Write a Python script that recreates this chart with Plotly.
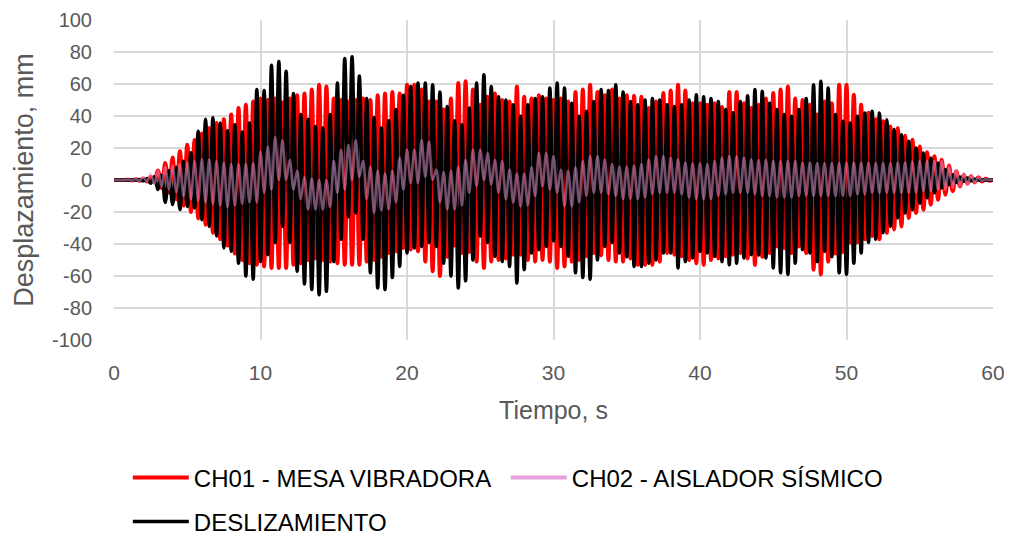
import numpy as np
import plotly.graph_objects as go

# Peak values, one row per second:
# samples at t = s, s+0.25, s+0.5, s+0.75 (alternating extreme values), last value at t = 60
ch01_rows = [
    [0, 0, 0, 0], [0.2, -0.2, 0.4, -0.4], [1, -1, 2, -1.5], [6, -5, 10.6, -8],
    [14, -12, 18, -16], [22, -20, 25, -24], [29, -28, 32.5, -33], [35.6, -37, 38, -41],
    [41, -46, 45, -50], [47, -52, 49, -53], [51, -54, 50, -55], [51, -55, 48.5, -55],
    [51, -53, 53, -52], [54, -50, 56.5, -49], [59.6, -50, 58.5, -51], [51, -52, 50, -53],
    [49, -53, 50, -53], [51, -51, 50, -50], [53, -48, 54, -45.6], [55, -44.6, 54, -42.5],
    [59.6, -43.5, 59.6, -44.6], [56.5, -51, 49, -57], [49, -60, 44, -48], [51, -41, 60.6, -45.6],
    [61.7, -45, 56.5, -51], [47, -55, 52, -51], [54, -50, 50, -49], [49, -46.7, 58.5, -46.7],
    [52, -50, 51, -51], [53, -50, 51, -51], [50, -55, 51, -54], [49, -51, 55, -50],
    [56.5, -47.7, 59.6, -45.6], [55, -47, 53, -50], [56.5, -51, 51, -51], [53, -49, 52.7, -53],
    [52, -53, 45, -53], [49, -51, 54.4, -45.6], [56, -46.7, 59.6, -47.7], [56, -50, 48, -52],
    [48, -53, 47, -50], [48, -49, 45.6, -47.7], [55, -46.7, 55, -45.6], [48, -49, 45, -53],
    [47, -48, 51, -45.6], [54.4, -41.5, 56.5, -42.5], [58.5, -45.6, 51, -41.5], [50, -45.6, 47, -56],
    [41, -59, 49, -51], [48, -46, 59.6, -45], [59.6, -39, 53.3, -39], [47, -37, 42, -35],
    [38, -37, 36.7, -33], [33.5, -31, 32.5, -29], [27.7, -23.7, 25.2, -20.6], [21, -18.5, 17.3, -15.4],
    [14.8, -12.3, 12.7, -9.2], [9, -7, 5.4, -4], [3.3, -2.3, 2.3, -1.5], [1.7, -1, 0.8, -0.4],
    [0],
]

ch02_rows = [
    [0, 0, 0, 0], [0.3, -0.3, 0.6, -0.5], [2, -1, 4, -2.5], [6, -4, 8.5, -6],
    [9, -8, 10, -10], [11, -12, 12, -13], [13, -14, 13, -15], [12, -16, 11, -17],
    [10, -16, 10, -15], [10, -14, 10.6, -14], [18, -8, 21, -6], [27, 0, 25, 0],
    [12.7, -6, 6, -12], [2, -18.5, 1, -18.5], [0, -18.5, 0, -17], [12, -8, 19, -6],
    [22, 0, 25, 2], [12, -12, 8.5, -20.6], [6, -19, 4, -18.5], [6, -14, 14, -6],
    [19, -2, 19, -2], [25, 2, 24, 0], [6.5, -14, 5, -18.5], [6, -18.5, 8.5, -16],
    [12.7, -8, 19, -4], [19, 0, 17, -3], [12.7, -8, 12, -12], [6.5, -14, 4, -16.5],
    [4, -16, 8, -10], [17, -4, 17, -6], [15, -8, 6.5, -16.5], [6, -16.5, 8, -14],
    [12, -10, 15, -8], [15, -8, 13, -9], [10, -10, 8.5, -12], [8.5, -12, 9, -12],
    [10, -11, 13, -9], [15, -8, 15, -8], [14, -8, 13, -9], [11, -11, 10.6, -12],
    [10.6, -12, 10, -12], [12, -10, 14, -9], [15, -8, 15, -8], [14, -8, 13, -9],
    [12.7, -10, 12.7, -10], [12, -11, 12, -11], [12, -11, 12, -10], [11, -10, 11, -10],
    [10.6, -10, 10.6, -10], [10.6, -10, 10.6, -10], [11, -10, 11, -9], [11, -9, 11, -8],
    [10.6, -8, 10.6, -8], [10.6, -8, 11, -8], [11, -8, 11.5, -8], [12, -7, 12, -7],
    [11.7, -6, 11.7, -6], [8.5, -5, 6.5, -4], [4.4, -3, 3, -1.5], [1.5, -0.5, 0.5, 0],
    [0],
]

desl_rows = [
    [0, 0, 0, 0], [0, 0, 0, 0.3], [-0.5, 1, -2, 2], [-6, 3, -14, 6],
    [-15.4, 8, -18.5, 11.7], [-16.5, 17, -17.5, 30.4], [-24.8, 38, -29, 39], [-35, 35.6, -42.5, 31],
    [-44.6, 34.6, -52, 30], [-60, 35.6, -62, 56.5], [-51, 56, -46.7, 71.7], [-39, 74, -29, 68],
    [-39, 54, -57, 41], [-65, 38, -68.5, 33.5], [-71.7, 32.5, -69.6, 41], [-51, 60.6, -37, 76],
    [-23, 77, -20.6, 65], [-37, 51, -58, 39], [-67.5, 32.5, -68.5, 37], [-61, 44, -54, 53],
    [-45.6, 58.5, -42.5, 60.6], [-41.5, 60.6, -39, 59.6], [-41.5, 55, -52, 46], [-60, 37, -67.5, 34.6],
    [-63, 45, -50, 60.6], [-35, 65.8, -39, 58.5], [-47.7, 52, -51, 50], [-54, 47, -64.4, 39.8],
    [-56, 47, -45.6, 51], [-43.5, 52, -41.5, 57.5], [-38, 60.6, -41.5, 57.5], [-47.7, 48, -58, 39.8],
    [-61, 43, -62, 49], [-50, 56.5, -41.5, 56], [-39, 59.6, -45.6, 55], [-48, 49, -54, 47],
    [-54, 50, -52, 51], [-50, 50, -45.6, 47], [-45.6, 46, -55, 47], [-51, 50, -48.7, 53.3],
    [-44.6, 52, -45.6, 51], [-47.7, 49, -51, 44], [-53, 42, -52, 49], [-48.7, 52.7, -46.7, 56.5],
    [-47, 55.4, -48.7, 48], [-55, 44, -58, 41], [-59, 39.8, -52, 44], [-43.5, 51, -45.6, 59.6],
    [-51, 61.7, -44.6, 57.5], [-48, 41, -58, 36.7], [-59, 35.6, -52, 39.8], [-45.6, 41.9, -39, 43],
    [-37, 41.9, -33, 37.7], [-29, 31.5, -23.7, 28.3], [-20.6, 24.2, -18.5, 20], [-14.4, 16.9, -11.2, 13.8],
    [-8, 10.6, -5, 6.5], [-3, 3.3, -1.5, 1.9], [-0.8, 1.2, -0.5, 0.5], [0, 0, 0, 0],
    [0],
]

x_ticks = [0, 10, 20, 30, 40, 50, 60]
y_ticks = [-100, -80, -60, -40, -20, 0, 20, 40, 60, 80, 100]
y_tick_labels = ["-100", "-80", "-60", "-40", "-20", "0", "20", "40", "60", "80", "100"]

ch01 = [v for row in ch01_rows for v in row]
ch02 = [v for row in ch02_rows for v in row]
desl = [v for row in desl_rows for v in row]
t = np.arange(len(ch01)) * 0.25

FONT = "Liberation Sans, Arial, sans-serif"
GRAY = "#595959"
GRID = "#d9d9d9"
PINK = "#e6a0dc"

fig = go.Figure()
fig.add_trace(go.Scatter(x=t, y=ch01, mode="lines", name="CH01 - MESA VIBRADORA",
                         line=dict(color="#ff0000", width=4, shape="spline"), legend="legend"))
fig.add_trace(go.Scatter(x=t, y=desl, mode="lines", name="DESLIZAMIENTO",
                         line=dict(color="#000000", width=3.5, shape="spline"), legend="legend2"))
fig.add_trace(go.Scatter(x=t, y=ch02, mode="lines", name="CH02 - AISLADOR SÍSMICO",
                         line=dict(color=PINK, width=2.5, shape="spline"), opacity=0.5,
                         showlegend=False, legendgroup="ch02"))
# legend entry for CH02 (solid colour, no data)
fig.add_trace(go.Scatter(x=[None], y=[None], mode="lines", name="CH02 - AISLADOR SÍSMICO",
                         line=dict(color=PINK, width=4), legend="legend", legendgroup="ch02"))

fig.update_layout(
    width=1004, height=532,
    margin=dict(l=106, r=19, t=12, b=200),
    paper_bgcolor="white", plot_bgcolor="white",
    font=dict(family=FONT, color=GRAY, size=20),
    xaxis=dict(range=[0, 60], tickvals=x_ticks, showgrid=True, gridcolor=GRID, gridwidth=1.5,
               zeroline=False, showline=False, ticks="", ticklabelstandoff=18, automargin=False,
               ticklabeloverflow="allow",
               tickfont=dict(size=21, color=GRAY),
               title=dict(text="Tiempo, s", font=dict(size=25, color=GRAY), standoff=18)),
    yaxis=dict(range=[-100, 100], tickvals=y_ticks, ticktext=y_tick_labels, showgrid=True,
               gridcolor=GRID, gridwidth=1.5, automargin=False, ticklabeloverflow="allow",
               zeroline=False, showline=False, ticks="", ticklabelstandoff=21,
               tickfont=dict(size=20, color=GRAY),
               title=dict(text="Desplazamiento, mm", font=dict(size=27, color=GRAY), standoff=10)),
    legend=dict(orientation="h", x=0.0157, xanchor="left", yref="container", y=0.1165, yanchor="middle",
                entrywidth=307, entrywidthmode="pixels", itemwidth=56,
                font=dict(size=24, color="#000000"), bgcolor="rgba(0,0,0,0)", traceorder="normal"),
    legend2=dict(orientation="h", x=0.0157, xanchor="left", yref="container", y=0.0338, yanchor="middle",
                 itemwidth=56, font=dict(size=24, color="#000000"), bgcolor="rgba(0,0,0,0)"),
    showlegend=True,
)

fig.write_html("out.html")
